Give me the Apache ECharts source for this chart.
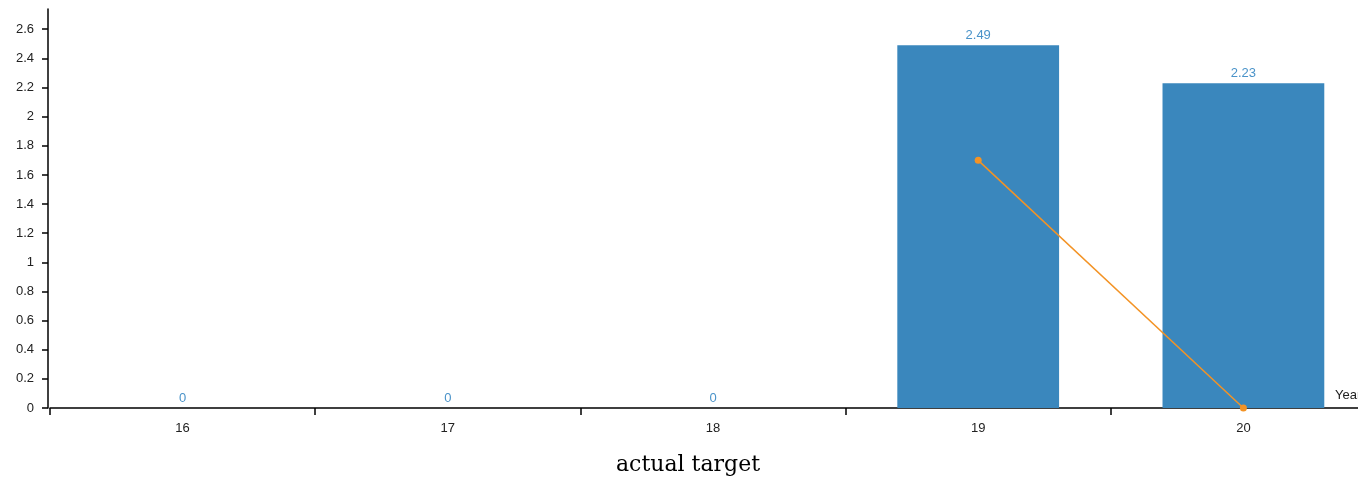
<!DOCTYPE html>
<html>
<head>
<meta charset="utf-8">
<script src="https://cdn.jsdelivr.net/npm/echarts@6/dist/echarts.min.js"></script>
<style>
  html, body { margin: 0; padding: 0; background: #fff; }
  #chart { width: 1358px; height: 478px; }
</style>
</head>
<body>
<div id="chart"></div>
<script>
// Years on the category axis
const years = ['16', '17', '18', '19', '20'];
// Actual values drawn as bars
const actual = [0, 0, 0, 2.49, 2.23];
// Target values drawn as a line (no target for the first three years)
const target = [null, null, null, 1.7, 0];

const barColor = '#3a87bd';
const lineColor = '#f39325';
const axisFont = 'Liberation Sans, Arial, sans-serif';

const chart = echarts.init(document.getElementById('chart'));
chart.setOption({
  animation: false,
  backgroundColor: '#fff',
  title: {
    text: 'actual target',
    left: 611,
    top: 449,
    textStyle: {
      fontFamily: 'DejaVu Serif, serif',
      fontSize: 22,
      fontWeight: 'normal',
      color: '#000'
    }
  },
  // the last band runs past the right edge of the canvas
  grid: {
    left: 50, top: 9, width: 1326, height: 399,
    containLabel: false,
    outerBoundsMode: 'none'
  },
  xAxis: {
    type: 'category',
    data: years,
    boundaryGap: true,
    axisLine: { lineStyle: { color: '#000', width: 1.5 } },
    axisTick: { show: true, length: 7, lineStyle: { color: '#000', width: 1.5 } },
    axisLabel: { color: '#222', fontFamily: axisFont, fontSize: 13, margin: 14 }
  },
  yAxis: {
    type: 'value',
    min: 0,
    // 10% headroom above the tallest bar
    max: Math.max(...actual) * 1.1,
    interval: 0.2,
    offset: 2,
    splitLine: { show: false },
    axisLine: { show: true, lineStyle: { color: '#000', width: 1.5 } },
    axisTick: { show: true, length: 6, lineStyle: { color: '#000', width: 1.5 } },
    axisLabel: {
      showMaxLabel: false,
      color: '#222',
      fontFamily: axisFont,
      fontSize: 13,
      margin: 14,
      formatter: v => String(Math.round(v * 10) / 10)
    }
  },
  graphic: [{
    type: 'text',
    left: 1335,
    top: 389,
    style: { text: 'Year', fill: '#222', font: '13px ' + axisFont }
  }],
  series: [
    {
      name: 'actual',
      type: 'bar',
      data: actual,
      barWidth: '61%',
      itemStyle: { color: barColor },
      label: {
        show: true,
        position: 'top',
        distance: 3,
        color: '#4a93c9',
        fontFamily: axisFont,
        fontSize: 13
      }
    },
    {
      name: 'target',
      type: 'line',
      data: target,
      symbol: 'circle',
      symbolSize: 7,
      showSymbol: true,
      lineStyle: { color: lineColor, width: 1.5 },
      itemStyle: { color: lineColor }
    }
  ]
});
</script>
</body>
</html>
